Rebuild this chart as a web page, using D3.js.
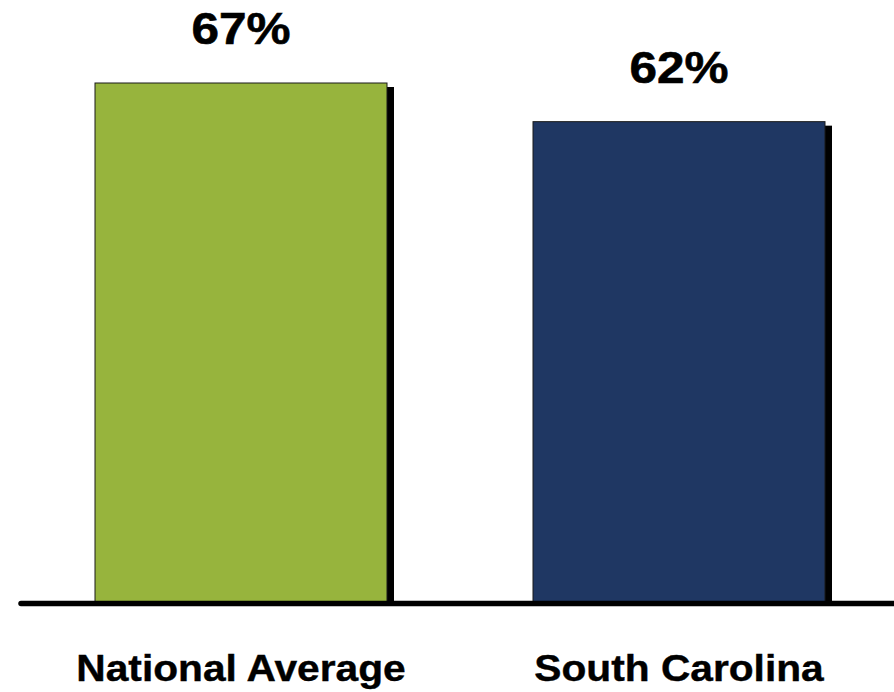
<!DOCTYPE html>
<html>
<head>
<meta charset="utf-8">
<script src="https://cdn.jsdelivr.net/npm/d3@7"></script>
<style>
  html, body { margin: 0; padding: 0; background: #fff; }
  svg text { font-family: Arial, "Liberation Sans", sans-serif; font-weight: bold; fill: #000; }
</style>
</head>
<body>
<svg width="894" height="692"></svg>
<script>
// chart data
var categories = ["National Average", "South Carolina"];
var values = [67, 62];
var valueLabels = ["67%", "62%"];
var barColors = ["#97b43d", "#1f3763"];

var svg = d3.select("svg"),
    width = +svg.attr("width"),
    height = +svg.attr("height");

var baseY = 601;

// scales
var x = d3.scaleBand()
    .domain(categories)
    .range([22, 898])
    .paddingInner(1 / 3)
    .paddingOuter(1 / 6);

var y = d3.scaleLinear()
    .domain([0, 67])
    .range([baseY, 83]);

var bars = svg.append("g").selectAll("g")
    .data(categories)
    .enter().append("g");

// drop shadow
bars.append("rect")
    .attr("x", function(d) { return x(d) + 7; })
    .attr("y", function(d, i) { return y(values[i]) + 4; })
    .attr("width", x.bandwidth())
    .attr("height", function(d, i) { return baseY - y(values[i]); })
    .attr("fill", "#000");

bars.append("rect")
    .attr("x", function(d) { return x(d); })
    .attr("y", function(d, i) { return y(values[i]); })
    .attr("width", x.bandwidth())
    .attr("height", function(d, i) { return baseY - y(values[i]) + 2; })
    .attr("fill", function(d, i) { return barColors[i]; })
    .attr("stroke", "#1a1a1a")
    .attr("stroke-width", 1);

// value labels
bars.append("text")
    .attr("text-anchor", "middle")
    .attr("font-size", 45)
    .attr("stroke", "#000")
    .attr("stroke-width", 0.6)
    .attr("transform", function(d, i) {
        return "translate(" + (x(d) + x.bandwidth() / 2) + "," + (y(values[i]) - 39) + ") scale(1.1,1)";
    })
    .text(function(d, i) { return valueLabels[i]; });

// baseline
svg.append("line")
    .attr("x1", 21)
    .attr("x2", width + 5)
    .attr("y1", baseY + 2.5)
    .attr("y2", baseY + 2.5)
    .attr("stroke", "#000")
    .attr("stroke-width", 5.5)
    .attr("stroke-linecap", "round");

// category labels
bars.append("text")
    .attr("text-anchor", "middle")
    .attr("font-size", 37)
    .attr("stroke", "#000")
    .attr("stroke-width", 0.4)
    .attr("transform", function(d) {
        return "translate(" + (x(d) + x.bandwidth() / 2) + ",681) scale(1.1,1)";
    })
    .text(function(d) { return d; });
</script>
</body>
</html>
